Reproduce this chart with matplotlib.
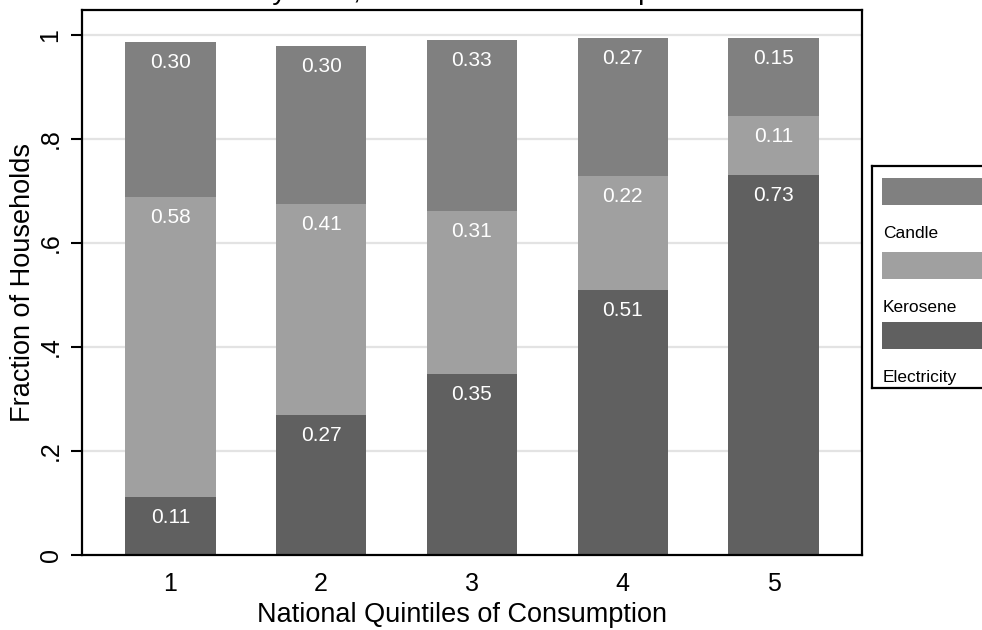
import matplotlib
matplotlib.use("Agg")
import matplotlib.pyplot as plt
from matplotlib.patches import Rectangle
import numpy as np

plt.rcParams['font.family'] = ['Liberation Sans', 'DejaVu Sans']

# data
quintiles = [1, 2, 3, 4, 5]
electricity = [0.112, 0.269, 0.348, 0.510, 0.731]
kerosene = [0.577, 0.406, 0.314, 0.218, 0.113]
candle = [0.298, 0.304, 0.328, 0.267, 0.151]
series_names = ['Candle', 'Kerosene', 'Electricity']
colors = {'Electricity': '#606060', 'Kerosene': '#a0a0a0', 'Candle': '#808080'}
yticks = [0, 0.2, 0.4, 0.6, 0.8, 1.0]
ytick_labels = ['0', '.2', '.4', '.6', '.8', '1']

fig = plt.figure(figsize=(9.82, 6.30), dpi=100)
W, H = 982, 630
ax = fig.add_axes([82 / W, (H - 555) / H, (862 - 82) / W, (555 - 10) / H])

# grid first so bars sit on top
for t in yticks[1:]:
    ax.axhline(t, color='#e3e3e3', lw=1.6, zorder=0)

x = np.array(quintiles)
stack = [('Electricity', electricity), ('Kerosene', kerosene), ('Candle', candle)]
bottom = np.zeros(len(x))
for name, vals in stack:
    vals = np.array(vals)
    ax.bar(x, vals, width=0.6, bottom=bottom, color=colors[name], zorder=2, linewidth=0)
    for xi, b, v in zip(x, bottom, vals):
        ax.annotate(f'{v:.2f}', xy=(xi, b + v), xytext=(0, -11), textcoords='offset pixels',
                    ha='center', va='top', color='white', fontsize=15, zorder=3)
    bottom = bottom + vals

ax.set_xlim(0.415, 5.585)
ax.set_ylim(0, 1.048)
ax.set_xticks(quintiles)
ax.set_xticklabels([str(q) for q in quintiles], fontsize=18)
ax.set_yticks(yticks)
ax.set_yticklabels(ytick_labels, fontsize=18, rotation=90, va='center')
ax.tick_params(axis='x', length=0, pad=12)
ax.tick_params(axis='y', length=8, width=1.5, pad=6)
for s in ax.spines.values():
    s.set_linewidth(1.6)
ax.set_xlabel('National Quintiles of Consumption', fontsize=19.5)
ax.xaxis.set_label_coords((462 - 82) / 780, -(628 - 555) / 545, transform=ax.transAxes)
ax.xaxis.label.set_va('bottom')
ax.set_ylabel('Fraction of Households', fontsize=19.5, labelpad=2)

# title sits mostly above the canvas, only descenders show
fig.text(98 / W, 1.0 + 1 / H, 'Households by Area, Main Sources of Lamp Fuel Used at Home',
         ha='left', va='baseline', fontsize=20.5)

# legend box in pixel coordinates, running off the right edge
lax = fig.add_axes([872 / W, (H - 388) / H, (1000 - 872) / W, (388 - 166) / H])
lax.set_xlim(872, 1000)
lax.set_ylim(388, 166)
lax.set_xticks([])
lax.set_yticks([])
for s in lax.spines.values():
    s.set_linewidth(1.6)
key_tops = [178, 252, 322]
for name, top in zip(series_names, key_tops):
    lax.add_patch(Rectangle((882, top), 130, 27, color=colors[name], lw=0))
    lax.text(883, top + 56, name, fontsize=12.5, va='center', ha='left')

fig.savefig('out.png', dpi=100)
